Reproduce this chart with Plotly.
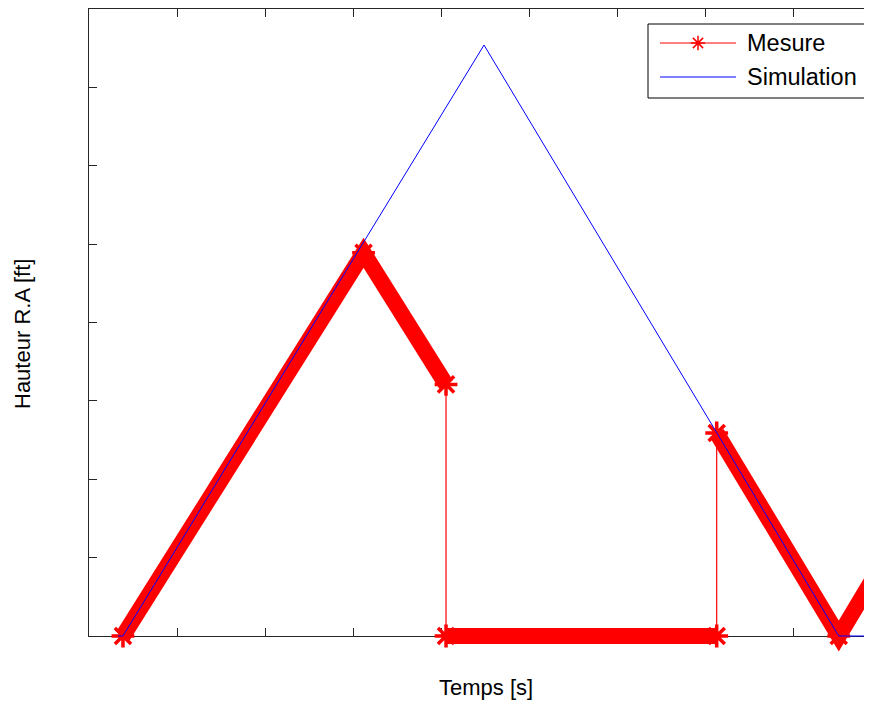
import plotly.graph_objects as go

# ---- data (time in axis units, height in axis units) ----
sim_t = [0.33, 0.386, 4.489, 8.52, 8.95]
sim_h = [0.0, 0.0, 7.54, 0.0, 0.0]

mesure_t = [0.386, 3.12, 4.057, 4.057, 7.133, 7.133, 8.52, 9.0]
mesure_h = [0.0, 4.89, 3.21, 0.0, 0.0, 2.59, 0.0, 0.9]

x_ticks = [1, 2, 3, 4, 5, 6, 7, 8]
y_ticks = [1, 2, 3, 4, 5, 6, 7]

# ---- geometry (page pixels; the page body adds an 8px offset) ----
OFF = 8
PAGE_W, PAGE_H = 872, 704
W, H = PAGE_W - OFF, PAGE_H - OFF
AX_LEFT, AX_TOP, AX_BOTTOM = 89, 9, 636      # page px
DATA_BOTTOM = 654                             # page px (extended area for marker band)
ML, MR, MT = AX_LEFT - OFF, 0, AX_TOP - OFF
MB = H - (DATA_BOTTOM - OFF)
PW, PH = W - ML - MR, H - MT - MB
X_PX_PER_UNIT = 88.0
Y_PX_PER_UNIT = (AX_BOTTOM - AX_TOP) / 8.0
x_max = PW / X_PX_PER_UNIT
y_dom_bottom = (DATA_BOTTOM - AX_BOTTOM) / PH
y2_min = -(DATA_BOTTOM - AX_BOTTOM) / Y_PX_PER_UNIT


def px_x(p):
    return (p - AX_LEFT) / PW


def px_y(p):
    return (DATA_BOTTOM - p) / PH


# band segments: break where consecutive samples share the same time (vertical jumps)
band_t, band_h = [], []
for i, (t, h) in enumerate(zip(mesure_t, mesure_h)):
    if i > 0 and t == mesure_t[i - 1]:
        band_t.append(None)
        band_h.append(None)
    band_t.append(t)
    band_h.append(h)

RED = "#ff0000"
BLUE = "#0000ff"
AXC = "#262626"
FONT = "Liberation Sans, Arial, sans-serif"

fig = go.Figure()

# frame subplot (dummy)
fig.add_trace(go.Scatter(x=[None], y=[None], xaxis="x", yaxis="y",
                         showlegend=False, hoverinfo="skip"))

# data subplot
fig.add_trace(go.Scatter(x=mesure_t, y=mesure_h, xaxis="x2", yaxis="y2",
                         mode="lines", line=dict(color=RED, width=1.2),
                         showlegend=False, name="Mesure"))
fig.add_trace(go.Scatter(x=band_t, y=band_h, xaxis="x2", yaxis="y2",
                         mode="lines+markers", connectgaps=False,
                         line=dict(color=RED, width=16),
                         marker=dict(symbol="asterisk-open", size=19, color=RED,
                                     line=dict(color=RED, width=3.5)),
                         showlegend=False, name="Mesure"))
fig.add_trace(go.Scatter(x=sim_t, y=sim_h, xaxis="x2", yaxis="y2",
                         mode="lines", line=dict(color=BLUE, width=1),
                         showlegend=False, name="Simulation"))

# legend star marker
leg_x0, leg_x1, leg_y0, leg_y1 = 648, 869, 24, 98
row1, row2 = 43, 77
samp_x0, samp_x1, star_x, text_x = 660, 736, 698, 745
fig.add_trace(go.Scatter(x=[px_x(star_x)], y=[px_y(row1)], xaxis="x3", yaxis="y3",
                         mode="markers",
                         marker=dict(symbol="asterisk-open", size=12, color=RED,
                                     line=dict(color=RED, width=1.5)),
                         showlegend=False, hoverinfo="skip", cliponaxis=False))

fig.update_layout(
    width=W, height=H,
    margin=dict(l=ML, r=MR, t=MT, b=MB, pad=0),
    paper_bgcolor="white", plot_bgcolor="rgba(0,0,0,0)",
    showlegend=False,
    font=dict(family=FONT, color="#000000"),
    xaxis=dict(domain=[0, 1], anchor="y", range=[0, x_max],
               showline=True, linecolor=AXC, linewidth=1, mirror="ticks",
               ticks="inside", ticklen=8, tickwidth=1, tickcolor=AXC,
               tickvals=x_ticks, showticklabels=False, showgrid=False,
               zeroline=False, fixedrange=True),
    yaxis=dict(domain=[y_dom_bottom, 1], anchor="x", range=[0, 8],
               showline=True, linecolor=AXC, linewidth=1, mirror=False,
               ticks="inside", ticklen=8, tickwidth=1, tickcolor=AXC,
               tickvals=y_ticks, showticklabels=False, showgrid=False,
               zeroline=False, fixedrange=True),
    xaxis2=dict(domain=[0, 1], anchor="y2", range=[0, x_max], visible=False,
                fixedrange=True),
    yaxis2=dict(domain=[0, 1], anchor="x2", range=[y2_min, 8], visible=False,
                fixedrange=True),
    xaxis3=dict(domain=[0, 1], anchor="y3", range=[0, 1], visible=False,
                fixedrange=True),
    yaxis3=dict(domain=[0, 1], anchor="x3", range=[0, 1], visible=False,
                fixedrange=True),
)

shapes = [
    dict(type="rect", xref="paper", yref="paper",
         x0=px_x(leg_x0), x1=px_x(leg_x1), y0=px_y(leg_y1), y1=px_y(leg_y0),
         line=dict(color="#000000", width=1), fillcolor="white", layer="below"),
    dict(type="line", xref="paper", yref="paper",
         x0=px_x(samp_x0), x1=px_x(samp_x1), y0=px_y(row1), y1=px_y(row1),
         line=dict(color=RED, width=1)),
    dict(type="line", xref="paper", yref="paper",
         x0=px_x(samp_x0), x1=px_x(samp_x1), y0=px_y(row2), y1=px_y(row2),
         line=dict(color=BLUE, width=1)),
]
fig.update_layout(shapes=shapes)

annotations = [
    dict(text="Mesure", xref="paper", yref="paper", x=px_x(text_x), y=px_y(row1),
         xanchor="left", yanchor="middle", showarrow=False,
         font=dict(size=23.5, family=FONT, color="#000000")),
    dict(text="Simulation", xref="paper", yref="paper", x=px_x(text_x), y=px_y(row2),
         xanchor="left", yanchor="middle", showarrow=False,
         font=dict(size=23.5, family=FONT, color="#000000")),
    dict(text="Temps [s]", xref="paper", yref="paper", x=px_x(485.5), y=px_y(687),
         xanchor="center", yanchor="middle", showarrow=False,
         font=dict(size=22, family=FONT, color="#000000")),
    dict(text="Hauteur R.A [ft]", xref="paper", yref="paper", x=px_x(22), y=px_y(334),
         xanchor="center", yanchor="middle", showarrow=False, textangle=-90,
         font=dict(size=22, family=FONT, color="#000000")),
]
fig.update_layout(annotations=annotations)

fig.write_html("out.html")
